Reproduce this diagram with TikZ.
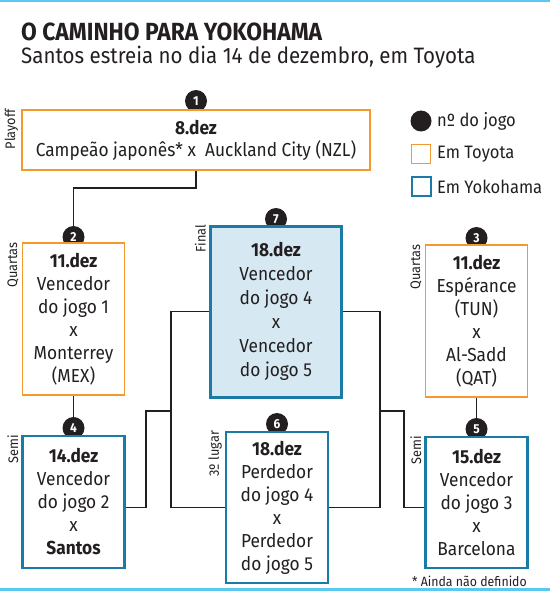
\documentclass[tikz,border=0pt]{standalone}
\usepackage{fontspec}
\usetikzlibrary{backgrounds}
\setmainfont{Fira Sans}[FakeStretch=0.92]
\definecolor{orangeb}{HTML}{F39A2E}
\definecolor{blueb}{HTML}{1A7CA6}
\definecolor{bluefill}{HTML}{D6E8F2}
\definecolor{cyanl}{HTML}{5BC8F0}
\definecolor{ink}{HTML}{231F20}
\tikzset{
  conn/.style={draw=ink, line width=1.5pt},
  boxbase/.style={rectangle, fill=white, align=center, inner sep=0pt, text=ink,
     font=\fontsize{18.8}{23}\selectfont},
  toyota/.style={boxbase, draw=orangeb, line width=1.6pt},
  yoko/.style={boxbase, draw=blueb, line width=2.2pt},
  finalbox/.style={boxbase, draw=blueb, fill=bluefill, line width=3pt},
  num/.style={circle, fill=ink, text=white, inner sep=0pt, minimum size=22pt,
     font=\fontsize{13}{13}\selectfont\bfseries},
  side/.style={rotate=90, anchor=south east, inner sep=0pt, text=ink,
     font=\fontsize{13.8}{14}\selectfont},
  legtext/.style={anchor=west, inner sep=0pt, text=ink, font=\fontsize{18}{20}\selectfont},
}
\begin{document}
\begin{tikzpicture}[x=1pt,y=-1pt]
\useasboundingbox (0,0) rectangle (550,591);
\fill[cyanl] (0,0) rectangle (550,2);
\fill[cyanl] (0,588) rectangle (550,591);
% title
\node[anchor=base west, inner sep=0pt, text=ink, font=\fontsize{24.8}{25}\selectfont\bfseries] (title) at (21,40.5) {O CAMINHO PARA YOKOHAMA};
\node[anchor=base west, inner sep=0pt, text=ink, font=\fontsize{22.3}{23}\selectfont] (sub) at (21,64) {Santos estreia no dia 14 de dezembro, em Toyota};
% coordinates for brackets
\coordinate (xl) at (171,0);
\coordinate (xl2) at (146,0);
\coordinate (xr) at (380,0);
\coordinate (xr2) at (404,0);
\coordinate (yb) at (0,411);
% circles
\node[num] (n1) at (196,101) {1};
\node[num] (n2) at (73.5,237) {2};
\node[num] (n3) at (476.5,238) {3};
\node[num] (n4) at (73.5,428) {4};
\node[num] (n5) at (476.5,429) {5};
\node[num] (n6) at (277,424) {6};
\node[num] (n7) at (276,219) {7};
% boxes
\node[toyota, minimum width=348pt, minimum height=60pt, font=\fontsize{18.8}{22}\selectfont] (b1) at (196,140)
  {\textbf{8.dez}\\Campeão japonês* x\ \ Auckland City (NZL)};
\node[toyota, minimum width=102pt, minimum height=152pt] (b2) at (73.5,319)
  {\textbf{11.dez}\\Vencedor\\do jogo 1\\x\\Monterrey\\(MEX)};
\node[toyota, minimum width=102pt, minimum height=152pt] (b3) at (476.5,321)
  {\textbf{11.dez}\\Espérance\\(TUN)\\x\\Al-Sadd\\(QAT)};
\node[yoko, minimum width=102pt, minimum height=132pt] (b4) at (73.5,502)
  {\textbf{14.dez}\\Vencedor\\do jogo 2\\x\\\textbf{Santos}};
\node[yoko, minimum width=102pt, minimum height=131pt] (b5) at (476.5,502.5)
  {\textbf{15.dez}\\Vencedor\\do jogo 3\\x\\Barcelona};
\node[yoko, minimum width=102pt, minimum height=151pt] (b6) at (277,507.5)
  {\textbf{18.dez}\\Perdedor\\do jogo 4\\x\\Perdedor\\do jogo 5};
\node[finalbox, minimum width=131pt, minimum height=171pt, font=\fontsize{18.8}{24}\selectfont] (b7) at (276,311.5)
  {\textbf{18.dez}\\Vencedor\\do jogo 4\\x\\Vencedor\\do jogo 5};
% connectors (behind)
\begin{scope}[on background layer]
\draw[conn] (b1.south) -- ++(0,17) -| (b2.north);
\draw[conn] (b2.south) -- (b4.north);
\draw[conn] (b3.south) -- (b5.north);
\draw[conn] (b7.west) -- (b7.west -| xl) -- (b6.west -| xl) -- (b6.west);
\draw[conn] (b4.east |- b6.west) -- (b6.west -| xl2) -- (xl2 |- yb) -- (xl |- yb);
\draw[conn] (b7.east) -- (b7.east -| xr) -- (b6.east -| xr) -- (b6.east);
\draw[conn] (b5.west |- b6.east) -- (b6.east -| xr2) -- (xr2 |- yb) -- (xr |- yb);
\end{scope}
% side labels
\node[side] (s1) at ([xshift=-3pt]b1.north west) {Playoff};
\node[side] (s2) at ([xshift=-3pt]b2.north west) {Quartas};
\node[side] (s3) at ([xshift=-3pt]b3.north west) {Quartas};
\node[side] (s4) at ([xshift=-3pt]b4.north west) {Semi};
\node[side] (s5) at ([xshift=-3pt]b5.north west) {Semi};
\node[side] (s6) at ([xshift=-3pt]b6.north west) {3º lugar};
\node[side] (s7) at ([xshift=-3pt]b7.north west) {Final};
% legend
\node[circle, fill=ink, minimum size=21pt, inner sep=0pt] (lg1) at (421,121) {};
\node[legtext] (lt1) at (437,121) {nº do jogo};
\node[rectangle, draw=orangeb, line width=1.6pt, minimum size=19pt, inner sep=0pt] (lg2) at (421,154) {};
\node[legtext] (lt2) at (437,154.5) {Em Toyota};
\node[rectangle, draw=blueb, line width=2pt, minimum size=19pt, inner sep=0pt] (lg3) at (421,186.5) {};
\node[legtext] (lt3) at (437,187) {Em Yokohama};
% footnote
\node[anchor=east, inner sep=0pt, text=ink, font=\fontsize{13.4}{14}\selectfont] (fn) at (527,581) {* Ainda não definido};
\end{tikzpicture}
\end{document}
